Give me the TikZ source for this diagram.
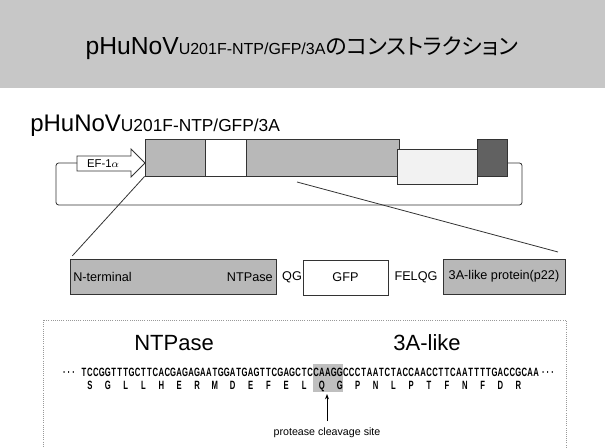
\documentclass[tikz,border=0pt]{standalone}
\usepackage{fontspec}
\setmainfont{Liberation Sans}
\newfontfamily\jpfont[RawFeature=+palt]{Noto Sans CJK JP}
\newfontfamily\seqfont[FakeStretch=0.64]{Liberation Sans}
\usetikzlibrary{fit,arrows.meta}
\begin{document}
\begin{tikzpicture}[x=0.75pt,y=-0.75pt,
  ln/.style={draw=black!80, line width=0.6pt},
  gbox/.style={ln, fill=black!28, inner sep=0pt},
  wbox/.style={ln, fill=white, inner sep=0pt},
  lab/.style={font=\fontsize{9.5}{10}\selectfont, inner sep=0pt},
  seqch/.style={font=\seqfont\bfseries\fontsize{9}{9}\selectfont, inner sep=0pt, anchor=base},
  big/.style={font=\fontsize{16.5}{17}\selectfont, inner sep=0pt}]
\clip (0,0) rectangle (605,448);
\useasboundingbox (0,0) rectangle (605,448);
% banner
\fill[black!22] (0,0) rectangle (605,88);
\node[anchor=base, inner sep=0pt] (title) at (302,55)
  {\fontsize{18.5}{19}\selectfont pHuNoV{\fontsize{12}{12}\selectfont U201F-NTP/GFP/3A}{\jpfont\fontsize{16.5}{17}\selectfont のコンストラクション}};
% subtitle
\node[anchor=base west, inner sep=0pt] (sub) at (30,132)
  {\fontsize{18}{18}\selectfont pHuNoV{\fontsize{13}{13}\selectfont U201F-NTP/GFP/3A}};
% construct
\node[gbox, fit={(145,139) (205,176)}] (b1) {};
\node[wbox, fit={(205,139) (246,176)}] (b2) {};
\node[gbox, fit={(246,139) (399,176)}] (b3) {};
\node[ln, fill=black!5, inner sep=0pt, fit={(397,149) (477,184)}] (b4) {};
\node[ln, fill=black!62, inner sep=0pt, fit={(477,139) (507,176)}] (b5) {};
% promoter arrow
\draw[ln, fill=white] (77,156) -- (131,156) -- (131,149) -- (145,163) -- (131,177) -- (131,171) -- (77,171) -- cycle;
\node[lab, font=\fontsize{8.5}{9}\selectfont] (ef) at (103,164) {EF-1$\alpha$};
\coordinate (efw) at (77,163);
\coordinate (b5r) at (507,163);
\draw[ln, rounded corners=2pt] (efw) -- (56,163) -- (56,205) -- (522,205) -- (522,163) -- (b5r);
% lower boxes
\node[gbox, fit={(70,259) (276,294)}] (nt) {};
\node[lab, anchor=west] (ntl) at (73,277) {N-terminal};
\node[lab, anchor=east] (ntr) at (273,277) {NTPase};
\node[lab] (qg) at (292,277) {QG};
\node[wbox, fit={(303,260) (388,295)}] (gfp) {};
\node[lab] (gfpl) at (gfp.center) {GFP};
\node[lab] (felqg) at (416,277) {FELQG};
\node[gbox, fit={(443,259) (565,294)}] (p22) {};
\node[lab] (p22l) at (p22.center) {3A-like protein(p22)};
% zoom lines
\coordinate (rs) at (297,182);
\coordinate (re) at (558,252);
\draw[ln] (b1.south west) -- ([xshift=2pt,yshift=2pt]nt.north west);
\draw[ln] (rs) -- (re);
% sequence panel
\draw[black!40, densely dotted, line width=0.6pt] (43,320) rectangle (566,470);
\node[big, anchor=base] (ntp) at (174,350) {NTPase};
\node[big, anchor=base] (tal) at (427,350) {3A-like};
\fill[black!25] (313,364) rectangle (343,392);
\foreach \c [count=\i from 0] in {T,C,C,G,G,T,T,T,G,C,T,T,C,A,C,G,A,G,A,G,A,A,T,G,G,A,T,G,A,G,T,T,C,G,A,G,C,T,C,C,A,A,G,G,C,C,C,T,A,A,T,C,T,A,C,C,A,A,C,C,T,T,C,A,A,T,T,T,T,G,A,C,C,G,C,A,A}
  \node[seqch] (n\i) at ({83.975+5.95*\i},376) {\c};
\foreach \a [count=\j from 0] in {S,G,L,L,H,E,R,M,D,E,F,E,L,Q,G,P,N,L,P,T,F,N,F,D,R}
  \node[seqch] (a\j) at ({89.925+17.85*\j},389) {\a};
\node[seqch] (dl) at (69,376) {·\,·\,·};
\node[seqch] (dr) at (548,376) {·\,·\,·};
\node[lab, font=\fontsize{8}{9}\selectfont] (pcs) at (327,433) {protease cleavage site};
\coordinate (arb) at (327,421);
\coordinate (art) at (327,394);
\draw[black, line width=0.7pt, -{Stealth[length=4pt,width=3pt]}] (arb) -- (art);
\end{tikzpicture}
\end{document}
